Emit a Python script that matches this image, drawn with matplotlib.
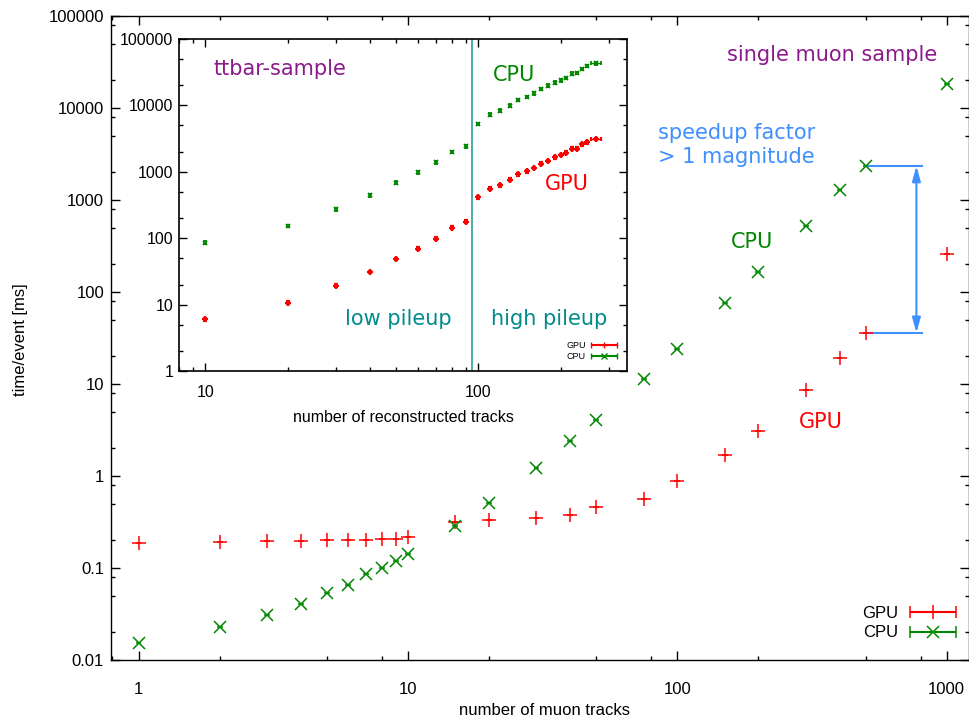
import numpy as np
import matplotlib
matplotlib.use('Agg')
import matplotlib.pyplot as plt
from matplotlib.ticker import LogLocator, NullFormatter, FixedLocator
from matplotlib.legend_handler import HandlerErrorbar

plt.rcParams['font.family'] = ['Liberation Sans', 'DejaVu Sans']

# main plot: single muon sample
muon_tracks = [1, 2, 3, 4, 5, 6, 7, 8, 9, 10, 15, 20, 30, 40, 50, 75, 100, 150, 200, 300, 400, 500, 1000]
gpu_muon = [0.187, 0.19, 0.196, 0.196, 0.2, 0.2, 0.2, 0.206, 0.206, 0.217, 0.316, 0.33, 0.35, 0.377,
            0.46, 0.56, 0.88, 1.69, 3.09, 8.6, 19.2, 35.9, 258]
cpu_muon = [0.0153, 0.0228, 0.0309, 0.0406, 0.0536, 0.0653, 0.086, 0.1, 0.119, 0.142, 0.286, 0.509,
            1.22, 2.4, 4.07, 11.3, 24, 76, 165, 521, 1284, 2345, 18200]

# inset: ttbar sample
reco_tracks = [10, 20, 30, 40, 50, 60, 70, 80, 90, 100, 110, 120, 130, 140, 150, 160, 170, 180, 190,
               200, 210, 220, 230, 240, 250, 270]
gpu_ttbar = [6.0, 10.7, 19.3, 31, 48.6, 69.5, 98.4, 144, 177, 412, 557, 625, 762, 916, 1017, 1141, 1326,
             1455, 1652, 1790, 1942, 2230, 2230, 2593, 2780, 3120]
cpu_ttbar = [86, 153, 272, 442, 686, 982, 1390, 1990, 2420, 5250, 7250, 8340, 9910, 12060, 13390, 15200,
             17670, 19830, 22000, 23860, 25880, 30060, 30760, 35330, 39190, 43000]
ttbar_xerr = [0] * 25 + [12]
pileup_split = 95

RED = '#ff0000'
GREEN = '#008800'
PURPLE = '#8b1a8b'
TEAL = '#008b8b'
BLUE = '#3f8fff'
ANN = 'DejaVu Sans'

fig = plt.figure(figsize=(9.7, 7.22), dpi=100)
ax = fig.add_axes([111 / 970, 1 - 660 / 722, 858 / 970, 644 / 722])
ax.set_xscale('log')
ax.set_yscale('log')
ax.set_xlim(0.79, 1210)
ax.set_ylim(0.01, 100000)

mx = np.array(muon_tracks, dtype=float)
ax.errorbar(mx, gpu_muon, xerr=mx * 0.025, fmt='+', color=RED, ms=10, mew=1.1, elinewidth=1.1, capsize=0)
ax.errorbar(mx, cpu_muon, xerr=mx * 0.025, fmt='x', color=GREEN, ms=9, mew=1.1, elinewidth=1.1, capsize=0)

# legend handles with caps
h_gpu = ax.errorbar([np.nan], [np.nan], xerr=[1], fmt='+', color=RED, ms=10, mew=1.1, capsize=4, label='GPU')
h_cpu = ax.errorbar([np.nan], [np.nan], xerr=[1], fmt='x', color=GREEN, ms=9, mew=1.1, capsize=4, label='CPU')
ax.legend(handles=[h_gpu, h_cpu], loc='lower right', bbox_to_anchor=(0.993, 0.02), frameon=False,
          markerfirst=False, fontsize=12, handlelength=2.8, handletextpad=0.7, labelspacing=0.25,
          borderaxespad=0, handler_map={type(h_gpu): HandlerErrorbar(xerr_size=1.4)})

ax.xaxis.set_major_locator(FixedLocator([1, 10, 100, 1000]))
ax.set_xticklabels(['1', '10', '100', '1000'])
ax.xaxis.set_minor_locator(LogLocator(base=10, subs=(2, 5, 8)))
ax.xaxis.set_minor_formatter(NullFormatter())
yt = [0.01, 0.1, 1, 10, 100, 1000, 10000, 100000]
ax.yaxis.set_major_locator(FixedLocator(yt))
ax.set_yticklabels(['0.01', '0.1', '1', '10', '100', '1000', '10000', '100000'])
ax.yaxis.set_minor_locator(LogLocator(base=10, subs=(2, 5, 8)))
ax.yaxis.set_minor_formatter(NullFormatter())
ax.tick_params(which='both', direction='in', top=True, right=True, labelsize=12, width=1)
ax.tick_params(which='major', length=6.5)
ax.tick_params(which='minor', length=3.2)
ax.tick_params(axis='x', which='major', pad=16)
ax.tick_params(axis='y', which='major', pad=5)
for s in ax.spines.values():
    s.set_linewidth(1.0)

ax.set_xlabel('number of muon tracks', fontsize=12)
ax.set_ylabel('time/event [ms]', fontsize=12)
ax.xaxis.set_label_coords(0.505, -0.078)
ax.xaxis.label.set_va('center')
ax.yaxis.set_label_coords(-0.106, 0.497)
ax.yaxis.label.set_va('center')

# annotations
ax.text(376, 37700, 'single muon sample', color=PURPLE, fontsize=15, family=ANN, ha='center', va='center')
ax.text(85, 4000, 'speedup factor\n> 1 magnitude', color=BLUE, fontsize=15, family=ANN, ha='left',
        va='center', linespacing=1.25)
ax.text(190, 349, 'CPU', color=GREEN, fontsize=15, family=ANN, ha='center', va='center')
ax.text(342, 3.86, 'GPU', color=RED, fontsize=15, family=ANN, ha='center', va='center')

i500 = muon_tracks.index(500)
top, bottom = cpu_muon[i500], gpu_muon[i500]
ax.plot([500, 810], [top, top], color=BLUE, lw=1.5)
ax.plot([500, 810], [bottom, bottom], color=BLUE, lw=1.5)
ax.annotate('', xy=(772, bottom), xytext=(772, top),
            arrowprops=dict(arrowstyle='<|-|>,head_width=0.25,head_length=0.9', color=BLUE, lw=1.5,
                            shrinkA=0, shrinkB=0))

# inset
ins = fig.add_axes([179 / 970, 1 - 371 / 722, 448 / 970, 332 / 722])
ins.set_facecolor('white')
ins.set_xscale('log')
ins.set_yscale('log')
ins.set_xlim(8, 350)
ins.set_ylim(1, 100000)

rx = np.array(reco_tracks, dtype=float)
ins.errorbar(rx, gpu_ttbar, xerr=ttbar_xerr, yerr=np.array(gpu_ttbar) * 0.05, fmt='+', color=RED,
             ms=4, mew=1.6, elinewidth=1, capsize=1.5)
ins.errorbar(rx, cpu_ttbar, xerr=ttbar_xerr, yerr=np.array(cpu_ttbar) * 0.05, fmt='x', color=GREEN,
             ms=3.5, mew=1.3, elinewidth=1, capsize=1.5)
ins.axvline(pileup_split, color='#2aa0a0', lw=1.2)

hi_gpu = ins.errorbar([np.nan], [np.nan], xerr=[1], fmt='+', color=RED, ms=4, mew=1, capsize=2, label='GPU')
hi_cpu = ins.errorbar([np.nan], [np.nan], xerr=[1], fmt='x', color=GREEN, ms=4, mew=1, capsize=2, label='CPU')
ins.legend(handles=[hi_gpu, hi_cpu], loc='lower right', bbox_to_anchor=(0.985, 0.02), frameon=False,
           markerfirst=False, fontsize=6.5, handlelength=2.8, handletextpad=0.6, labelspacing=0.2,
           borderaxespad=0, handler_map={type(hi_gpu): HandlerErrorbar(xerr_size=1.4)})

ins.xaxis.set_major_locator(FixedLocator([10, 100]))
ins.set_xticklabels(['10', '100'])
ins.xaxis.set_minor_locator(LogLocator(base=10, subs=(2, 3, 4, 5, 6, 7, 8, 9)))
ins.xaxis.set_minor_formatter(NullFormatter())
ins.yaxis.set_major_locator(FixedLocator([1, 10, 100, 1000, 10000, 100000]))
ins.set_yticklabels(['1', '10', '100', '1000', '10000', '100000'])
ins.yaxis.set_minor_locator(LogLocator(base=10, subs=(2, 5)))
ins.yaxis.set_minor_formatter(NullFormatter())
ins.tick_params(which='both', direction='in', top=True, right=True, labelsize=11.5, width=1)
ins.tick_params(which='major', length=6)
ins.tick_params(which='minor', length=3)
ins.tick_params(axis='x', which='major', pad=10)
ins.tick_params(axis='y', which='major', pad=4)
for s in ins.spines.values():
    s.set_linewidth(1.2)
ins.set_xlabel('number of reconstructed tracks', fontsize=11.5)
ins.xaxis.set_label_coords(0.5, -0.139)
ins.xaxis.label.set_va('center')

ins.text(18.8, 35300, 'ttbar-sample', color=PURPLE, fontsize=15, family=ANN, ha='center', va='center')
ins.text(134.6, 28700, 'CPU', color=GREEN, fontsize=15, family=ANN, ha='center', va='center')
ins.text(211, 655, 'GPU', color=RED, fontsize=15, family=ANN, ha='center', va='center')
ins.text(50.7, 6.07, 'low pileup', color=TEAL, fontsize=15, family=ANN, ha='center', va='center')
ins.text(182, 6.07, 'high pileup', color=TEAL, fontsize=15, family=ANN, ha='center', va='center')

fig.savefig('out.png', dpi=100)
